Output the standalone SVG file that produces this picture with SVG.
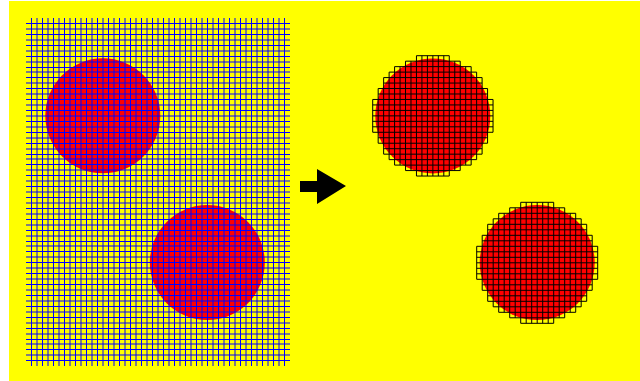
<svg xmlns="http://www.w3.org/2000/svg" xmlns:xlink="http://www.w3.org/1999/xlink" width="640" height="381" viewBox="0 0 640 381">
<style>
.disc{fill:#ff0000}
.grid{fill:none;stroke:#0000ff;stroke-width:1}
.cell{fill:none;stroke:#000;stroke-width:1;vector-effect:non-scaling-stroke}
</style>
<defs>
<path id="cells" class="cell" d="M8 0H14M6 1H16M4 2H18M3 3H19M2 4H20M2 5H20M1 6H21M1 7H21M0 8H22M0 9H22M0 10H22M0 11H22M0 12H22M0 13H22M0 14H22M1 15H21M1 16H21M2 17H20M2 18H20M3 19H19M4 20H18M6 21H16M8 22H14M0 8V14M1 6V16M2 4V18M3 3V19M4 2V20M5 2V20M6 1V21M7 1V21M8 0V22M9 0V22M10 0V22M11 0V22M12 0V22M13 0V22M14 0V22M15 1V21M16 1V21M17 2V20M18 2V20M19 3V19M20 4V18M21 6V16M22 8V14"/>
</defs>
<rect width="640" height="381" fill="#ffffff"/>
<rect x="9" y="1" width="631" height="380" fill="#ffff00"/>
<g id="left-grid">
<circle class="disc" cx="102.8" cy="115.8" r="57.5"/>
<circle class="disc" cx="207.3" cy="262.6" r="57.5"/>
<path class="grid" d="M31.5 18V366M37 18V366M42.5 18V366M48 18V366M53.5 18V366M59 18V366M64.5 18V366M70 18V366M75.5 18V366M81 18V366M86.5 18V366M92 18V366M97.5 18V366M103 18V366M108.5 18V366M114 18V366M119.5 18V366M125 18V366M130.5 18V366M136 18V366M141.5 18V366M147 18V366M152.5 18V366M158 18V366M163.5 18V366M169 18V366M174.5 18V366M180 18V366M185.5 18V366M191 18V366M196.5 18V366M202 18V366M207.5 18V366M213 18V366M218.5 18V366M224 18V366M229.5 18V366M235 18V366M240.5 18V366M246 18V366M251.5 18V366M257 18V366M262.5 18V366M268 18V366M273.5 18V366M279 18V366M284.5 18V366"/>
<path class="grid" d="M26 23.5H290M26 29H290M26 34.5H290M26 40H290M26 45.5H290M26 51H290M26 56.5H290M26 62H290M26 67.5H290M26 72H290M26 77.5H290M26 83H290M26 88.5H290M26 94H290M26 99.5H290M26 105H290M26 110.5H290M26 116H290M26 121.5H290M26 127H290M26 132.5H290M26 138H290M26 143.5H290M26 149H290M26 154.5H290M26 159H290M26 164.5H290M26 170H290M26 175.5H290M26 181H290M26 186.5H290M26 192H290M26 197.5H290M26 203H290M26 208.5H290M26 214H290M26 219.5H290M26 225H290M26 230.5H290M26 236H290M26 241.5H290M26 246H290M26 251.5H290M26 257H290M26 262.5H290M26 268H290M26 273.5H290M26 279H290M26 284.5H290M26 290H290M26 295.5H290M26 301H290M26 306.5H290M26 312H290M26 317.5H290M26 323H290M26 328.5H290M26 334H290M26 339.5H290M26 344H290M26 349.5H290M26 355H290M26 360.5H290"/>
</g>
<g id="connectors">
<polygon points="300,181 317,181 317,169 346,186 317,204 317,192 300,192" fill="#000"/>
</g>
<g id="disc-top">
<circle class="disc" cx="432.8" cy="115.9" r="57.5"/>
<use xlink:href="#cells" href="#cells" transform="translate(372.7,55.7) scale(5.47)"/>
</g>
<g id="disc-bottom">
<circle class="disc" cx="537.2" cy="262.6" r="57.5"/>
<use xlink:href="#cells" href="#cells" transform="translate(476.7,202.3) scale(5.5)"/>
</g>
</svg>
